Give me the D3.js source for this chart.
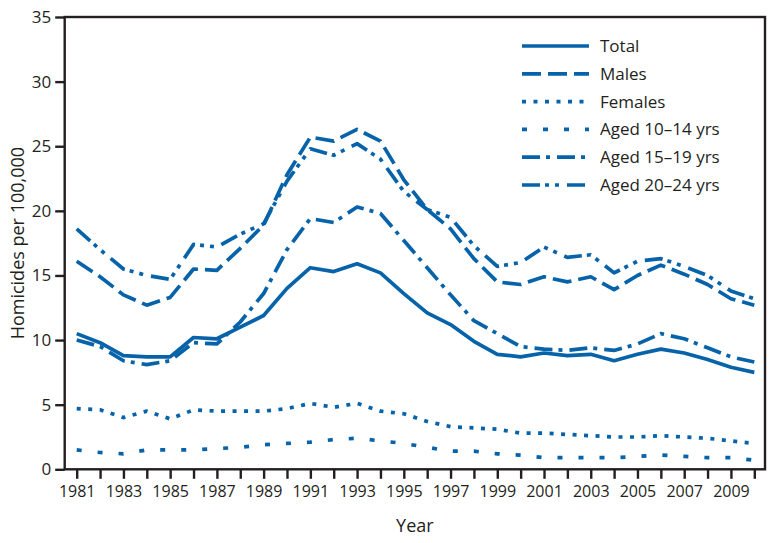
<!DOCTYPE html>
<html><head><meta charset="utf-8">
<script src="https://cdn.jsdelivr.net/npm/d3@7"></script>
<style>body{margin:0;background:#fff}svg{display:block}text{font-family:"Open Sans",sans-serif;fill:#231f20}</style>
</head><body><svg id="c" width="777" height="543"></svg>
<script>
const years = d3.range(1981, 2011);
const total   = [10.5,9.8,8.8,8.7,8.7,10.2,10.1,11.0,11.9,14.0,15.6,15.3,15.9,15.2,13.6,12.1,11.2,9.9,8.9,8.7,9.0,8.8,8.9,8.4,8.9,9.3,9.0,8.5,7.9,7.5];
const males   = [16.1,14.9,13.5,12.7,13.3,15.5,15.4,17.1,18.9,22.8,25.7,25.4,26.3,25.4,22.4,20.1,18.6,16.3,14.5,14.3,14.9,14.5,14.9,13.9,15.0,15.8,15.1,14.3,13.2,12.7];
const females = [4.7,4.6,4.0,4.5,3.9,4.6,4.5,4.5,4.5,4.7,5.1,4.8,5.1,4.5,4.3,3.7,3.3,3.2,3.1,2.8,2.8,2.7,2.6,2.5,2.5,2.6,2.5,2.4,2.2,2.0];
const aged1014 = [1.5,1.3,1.2,1.5,1.5,1.5,1.6,1.7,1.9,2.0,2.1,2.3,2.4,2.2,2.0,1.7,1.4,1.4,1.2,1.1,0.9,0.9,0.9,0.9,1.0,1.1,1.0,0.9,0.9,0.7];
const aged1519 = [10.0,9.5,8.4,8.1,8.4,9.8,9.7,11.4,13.6,17.0,19.4,19.1,20.3,19.8,17.7,15.6,13.5,11.5,10.5,9.5,9.3,9.2,9.4,9.2,9.7,10.5,10.1,9.4,8.7,8.3];
const aged2024 = [18.6,17.0,15.5,15.0,14.7,17.4,17.2,18.2,19.0,22.3,24.8,24.3,25.2,24.0,21.5,20.1,19.5,17.3,15.7,16.0,17.2,16.4,16.6,15.2,16.1,16.3,15.7,15.0,13.8,13.2];
const seriesNames = ["Total","Males","Females","Aged 10\u201314 yrs","Aged 15\u201319 yrs","Aged 20\u201324 yrs"];
const yTicks = [0,5,10,15,20,25,30,35];
const xLabelYears = [1981,1983,1985,1987,1989,1991,1993,1995,1997,1999,2001,2003,2005,2007,2009];

const seriesData = [total, males, females, aged1014, aged1519, aged2024];
const dashes = [null, "19,7", "4,7.5", "5,16", "18,6,4,7", "18,5,4,6,4,8"];
const color = "#0763a9";

const svg = d3.select("#c");
const L = 64.7, R = 765, T = 17, B = 469.3;
const x = d3.scaleLinear().domain([1981, 2010]).range([76.7, 754.3]);
const y = d3.scaleLinear().domain([0, 35]).range([B, T]);

const line = d3.line().x((d,i)=>x(years[i])).y(d=>y(d));
seriesData.forEach((s,k)=>{
  svg.append("path").datum(s).attr("d", line)
    .attr("fill","none").attr("stroke",color).attr("stroke-width",3.7)
    .attr("stroke-linejoin","round")
    .attr("stroke-dasharray", dashes[k]);
});

svg.append("rect").attr("x",L).attr("y",T).attr("width",R-L).attr("height",B-T)
  .attr("fill","none").attr("stroke","#231f20").attr("stroke-width",2.4);

const ya = svg.append("g").attr("transform",`translate(${L},0)`)
  .call(d3.axisLeft(y).tickValues(yTicks).tickSize(9.5).tickPadding(4).tickFormat(d3.format("d")));
ya.select(".domain").remove();
ya.selectAll("line").attr("stroke","#231f20").attr("stroke-width",2.4);
ya.selectAll("text").attr("font-size","17px").attr("fill","#231f20");

const xa = svg.append("g").attr("transform",`translate(0,${B})`)
  .call(d3.axisBottom(x).tickValues(years).tickSize(9.5).tickPadding(7)
    .tickFormat(d=>xLabelYears.includes(d)?String(d):""));
xa.select(".domain").remove();
xa.selectAll("line").attr("stroke","#231f20").attr("stroke-width",2.4);
xa.selectAll("text").attr("font-size","16px").attr("fill","#231f20");

svg.append("text").attr("x",(L+R)/2).attr("y",532).attr("text-anchor","middle")
  .attr("font-size","18px").text("Year");
svg.append("text").attr("transform",`translate(24,${(T+B)/2}) rotate(-90)`)
  .attr("text-anchor","middle").attr("font-size","18px").text("Homicides per 100,000");

const lg = svg.append("g");
seriesNames.forEach((n,k)=>{
  const yy = 46 + k*27.8;
  lg.append("line").attr("x1",522).attr("x2",589).attr("y1",yy).attr("y2",yy)
    .attr("stroke",color).attr("stroke-width",3.7).attr("stroke-dasharray",dashes[k]);
  lg.append("text").attr("x",600).attr("y",yy+6).attr("font-size","17px").text(n);
});
</script></body></html>
